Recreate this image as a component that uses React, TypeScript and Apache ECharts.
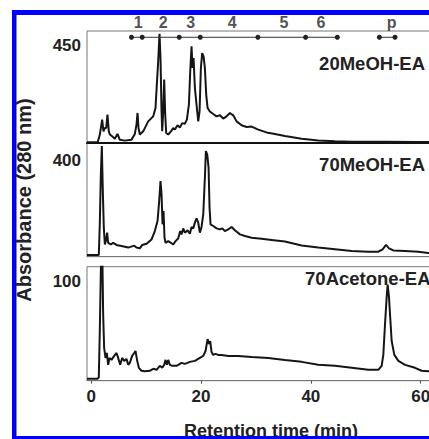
import React, { useEffect, useRef } from "react";
import * as echarts from "echarts";

// Retention time (min) / absorbance readings for the three chromatograms
const trace20MeOH: [number, number][] = [
  [-0.75, 3], [1.2, 3], [1.58, 38], [2.01, 108], [2.25, 54], [2.5, 69], [2.74, 69], [2.98, 131], [3.22, 54],
  [3.41, 39], [3.83, 31], [4.32, 20], [4.8, 42], [5.23, 15], [6.14, 11], [7.35, 15], [7.96, 42], [8.26, 85],
  [8.45, 139], [8.63, 69], [8.87, 39], [9.48, 54], [10.39, 100], [11.3, 123], [11.72, 162], [12.03, 301],
  [12.21, 378], [12.45, 505], [12.63, 393], [12.82, 146], [12.94, 54], [13.12, 146], [13.3, 293], [13.49, 131],
  [13.67, 46], [14.03, 39], [14.52, 54], [14.94, 69], [15.25, 62], [15.73, 82], [16.16, 72], [16.58, 92],
  [17.07, 89], [17.43, 108], [17.8, 177], [18.04, 331], [18.28, 447], [18.46, 347], [18.65, 393], [18.89, 254],
  [19.19, 177], [19.5, 100], [19.74, 146], [19.98, 347], [20.22, 416], [20.47, 401], [20.71, 347], [20.95, 224],
  [21.2, 162], [21.62, 146], [22.23, 134], [22.83, 123], [23.44, 128], [24.05, 113], [24.66, 123], [25.26, 139],
  [25.87, 128], [26.48, 100], [27.39, 82], [28.3, 74], [29.21, 76], [30.43, 62], [31.94, 49], [33.46, 42],
  [35.28, 32], [38.32, 20], [41.35, 12], [44.39, 8], [47.42, 6], [53.5, 6], [59.57, 5], [63, 5],
];

const trace70MeOH: [number, number][] = [
  [-0.75, 7], [1.4, 7], [1.58, 135], [1.77, 343], [1.95, 461], [2.13, 274], [2.31, 121], [2.5, 51], [2.74, 72],
  [2.92, 100], [3.1, 58], [3.59, 51], [4.01, 58], [4.62, 49], [5.53, 45], [6.75, 38], [7.84, 46], [8.26, 38],
  [8.87, 35], [9.3, 49], [10.09, 54], [11.0, 72], [11.6, 107], [12.09, 149], [12.39, 232], [12.63, 315],
  [12.82, 260], [13.0, 135], [13.18, 190], [13.36, 79], [13.55, 58], [14.03, 65], [14.52, 58], [14.94, 51],
  [15.37, 65], [15.85, 76], [16.22, 107], [16.46, 93], [16.76, 118], [17.07, 100], [17.55, 110], [17.98, 96],
  [18.28, 124], [18.59, 118], [18.89, 142], [19.19, 160], [19.5, 142], [19.8, 100], [20.1, 124], [20.41, 176],
  [20.71, 329], [20.89, 440], [21.14, 426], [21.38, 371], [21.56, 204], [21.74, 135], [22.23, 128], [22.84, 118],
  [23.44, 114], [23.87, 118], [24.35, 107], [24.96, 114], [25.57, 124], [26.17, 110], [27.09, 93], [28.0, 86],
  [29.21, 79], [31.03, 75], [32.85, 70], [35.28, 63], [38.32, 47], [41.35, 38], [44.39, 31], [47.43, 24],
  [50.46, 21], [52.28, 21], [53.07, 31], [53.68, 49], [54.23, 35], [55.02, 26], [57.14, 24], [59.57, 21],
  [61.39, 15], [63, 14],
];

const trace70Acetone: [number, number][] = [
  [-0.75, 2], [1.16, 2], [1.4, 3.4], [1.58, 50], [1.77, 111], [2.01, 140], [2.19, 67], [2.37, 33], [2.62, 23],
  [2.86, 28], [3.1, 16], [3.35, 23], [3.71, 21], [4.2, 25], [4.62, 28], [4.92, 23], [5.29, 16], [5.65, 23],
  [6.02, 20], [6.44, 22], [6.75, 16], [7.05, 18], [7.47, 25], [7.84, 28], [8.08, 30], [8.39, 20], [8.69, 13],
  [9.17, 10], [9.78, 9.5], [10.69, 10], [11.3, 12], [11.91, 11], [12.51, 15], [12.94, 13], [13.3, 16],
  [13.55, 21], [13.79, 16], [14.03, 21], [14.34, 16], [14.76, 15], [15.55, 15], [16.46, 18], [17.07, 17],
  [17.98, 19], [18.89, 20], [19.8, 23], [20.41, 25], [20.83, 30], [21.2, 42], [21.44, 37], [21.68, 40],
  [21.92, 29], [22.23, 26], [22.65, 27], [23.14, 26], [23.75, 26], [24.96, 25], [26.78, 25], [29.21, 24],
  [32.25, 23], [35.28, 21], [38.32, 19], [41.35, 16], [44.39, 15], [47.43, 13], [50.46, 11], [52.28, 11],
  [52.89, 15], [53.19, 26], [53.5, 57], [53.8, 84], [53.98, 97], [54.23, 84], [54.41, 67], [54.71, 40],
  [55.2, 26], [55.93, 20], [57.14, 16], [58.96, 13], [60.17, 10], [61.39, 9.5], [63, 9],
];

// Fraction collection boundaries (min) and labels
const fractionCuts = [7.35, 9.3, 16.04, 19.86, 30.36, 39.05, 44.82];
const poolCuts = [52.47, 55.32];
const fractionNames = ["1", "2", "3", "4", "5", "6", "p"];
const fractionLabelTimes = [8.56, 13.1, 18.15, 25.68, 35.1, 41.85, 54.7];
const fractionLevel = 489;

const panelNames = ["20MeOH-EA", "70MeOH-EA", "70Acetone-EA"];
const panelMax = [518, 474, 115];
const yTickValues = [[450], [400], [100]];
const xTickValues = [0, 20, 40, 60];

const X_MIN = -0.75;
const X_MAX = 63;
const FONT = '"Liberation Sans", Arial, sans-serif';

export default function App() {
  const ref = useRef<HTMLDivElement>(null);

  useEffect(() => {
    if (!ref.current) return;
    const chart = echarts.init(ref.current, null, { renderer: "svg" });

    const gridTops = [31, 143, 266.7];
    const gridHeights = [112, 113.7, 114];
    const grids = gridTops.map((top, i) => ({
      left: 87,
      top,
      width: 350.2,
      height: gridHeights[i],
      show: true,
      borderColor: "#777",
      borderWidth: 1,
      backgroundColor: "transparent",
    }));

    const xAxes = [0, 1, 2].map((i) => ({
      type: "value" as const,
      gridIndex: i,
      min: X_MIN,
      max: X_MAX,
      splitLine: { show: false },
      axisLine: {
        show: true,
        onZero: false,
        lineStyle: i === 0 ? { color: "#111", width: 2 } : { color: "#777", width: 1 },
      },
      axisTick:
        i === 2
          ? { show: true, length: 3, customValues: xTickValues, lineStyle: { color: "#555" } }
          : { show: false },
      axisLabel:
        i === 2
          ? {
              show: true,
              customValues: xTickValues,
              fontSize: 17,
              fontWeight: "bold",
              fontFamily: FONT,
              color: "#222",
              margin: 7,
            }
          : { show: false },
    }));

    const yAxes = [0, 1, 2].map((i) => ({
      type: "value" as const,
      gridIndex: i,
      min: 0,
      max: panelMax[i],
      splitLine: { show: false },
      axisLine: { show: false },
      axisTick: { show: false },
      axisLabel: {
        show: true,
        customValues: yTickValues[i],
        fontSize: 17,
        fontWeight: "bold",
        fontFamily: FONT,
        color: "#222",
        margin: 6,
      },
    }));

    const traceStyle = { color: "#151515", width: 2 };
    const traces = [trace20MeOH, trace70MeOH, trace70Acetone].map((d, i) => ({
      type: "line" as const,
      xAxisIndex: i,
      yAxisIndex: i,
      data: d,
      showSymbol: false,
      symbol: "none",
      lineStyle: traceStyle,
      clip: true,
      z: 3,
    }));

    const fractionSeries = [fractionCuts, poolCuts].map((cuts) => ({
      type: "line" as const,
      xAxisIndex: 0,
      yAxisIndex: 0,
      data: cuts.map((t) => [t, fractionLevel]),
      symbol: "circle",
      symbolSize: 5,
      showSymbol: true,
      itemStyle: { color: "#222" },
      lineStyle: { color: "#333", width: 1 },
      z: 4,
    }));

    const fractionLabels = {
      type: "scatter" as const,
      xAxisIndex: 0,
      yAxisIndex: 0,
      symbolSize: 0,
      data: fractionLabelTimes.map((t, i) => ({ value: [t, fractionLevel], name: fractionNames[i] })),
      label: {
        show: true,
        position: "inside" as const,
        offset: [0, -15],
        formatter: (p: any) => p.name,
        fontSize: 16,
        fontWeight: "bold",
        fontFamily: FONT,
        color: "#222",
      },
      z: 4,
    };

    const labelY = [63, 164.3, 278.2];
    const labelRight = [425, 425, 430.5];
    const panelTexts = panelNames.map((name, i) => ({
      type: "text",
      x: labelRight[i],
      y: labelY[i],
      z: 10,
      style: {
        text: name,
        font: `bold 18.5px ${FONT}`,
        fill: "#222",
        textAlign: "right",
        textVerticalAlign: "middle",
      },
    }));

    chart.setOption({
      animation: false,
      backgroundColor: "#fff",
      grid: grids,
      xAxis: xAxes,
      yAxis: yAxes,
      series: [...traces, ...fractionSeries, fractionLabels],
      graphic: [
        ...panelTexts,
        {
          type: "text",
          x: 24,
          y: 200,
          rotation: Math.PI / 2,
          z: 10,
          style: {
            text: "Absorbance (280 nm)",
            font: `bold 20px ${FONT}`,
            fill: "#222",
            textAlign: "center",
            textVerticalAlign: "middle",
          },
        },
        {
          type: "text",
          x: 271,
          y: 431,
          z: 10,
          style: {
            text: "Retention time (min)",
            font: `bold 18px ${FONT}`,
            fill: "#222",
            textAlign: "center",
            textVerticalAlign: "middle",
          },
        },
        { type: "rect", z: 20, shape: { x: 12, y: 10, width: 4.5, height: 429 }, style: { fill: "#0000ff" } },
        { type: "rect", z: 20, shape: { x: 12, y: 10, width: 440, height: 5 }, style: { fill: "#0000ff" } },
        { type: "rect", z: 20, shape: { x: 12, y: 436, width: 440, height: 3 }, style: { fill: "#0000ff" } },
      ],
    });

    return () => chart.dispose();
  }, []);

  return (
    <div style={{ position: "fixed", left: 0, top: 0, width: 429, height: 439, overflow: "hidden", background: "#fff" }}>
      <div ref={ref} style={{ width: 460, height: 439 }} />
    </div>
  );
}
